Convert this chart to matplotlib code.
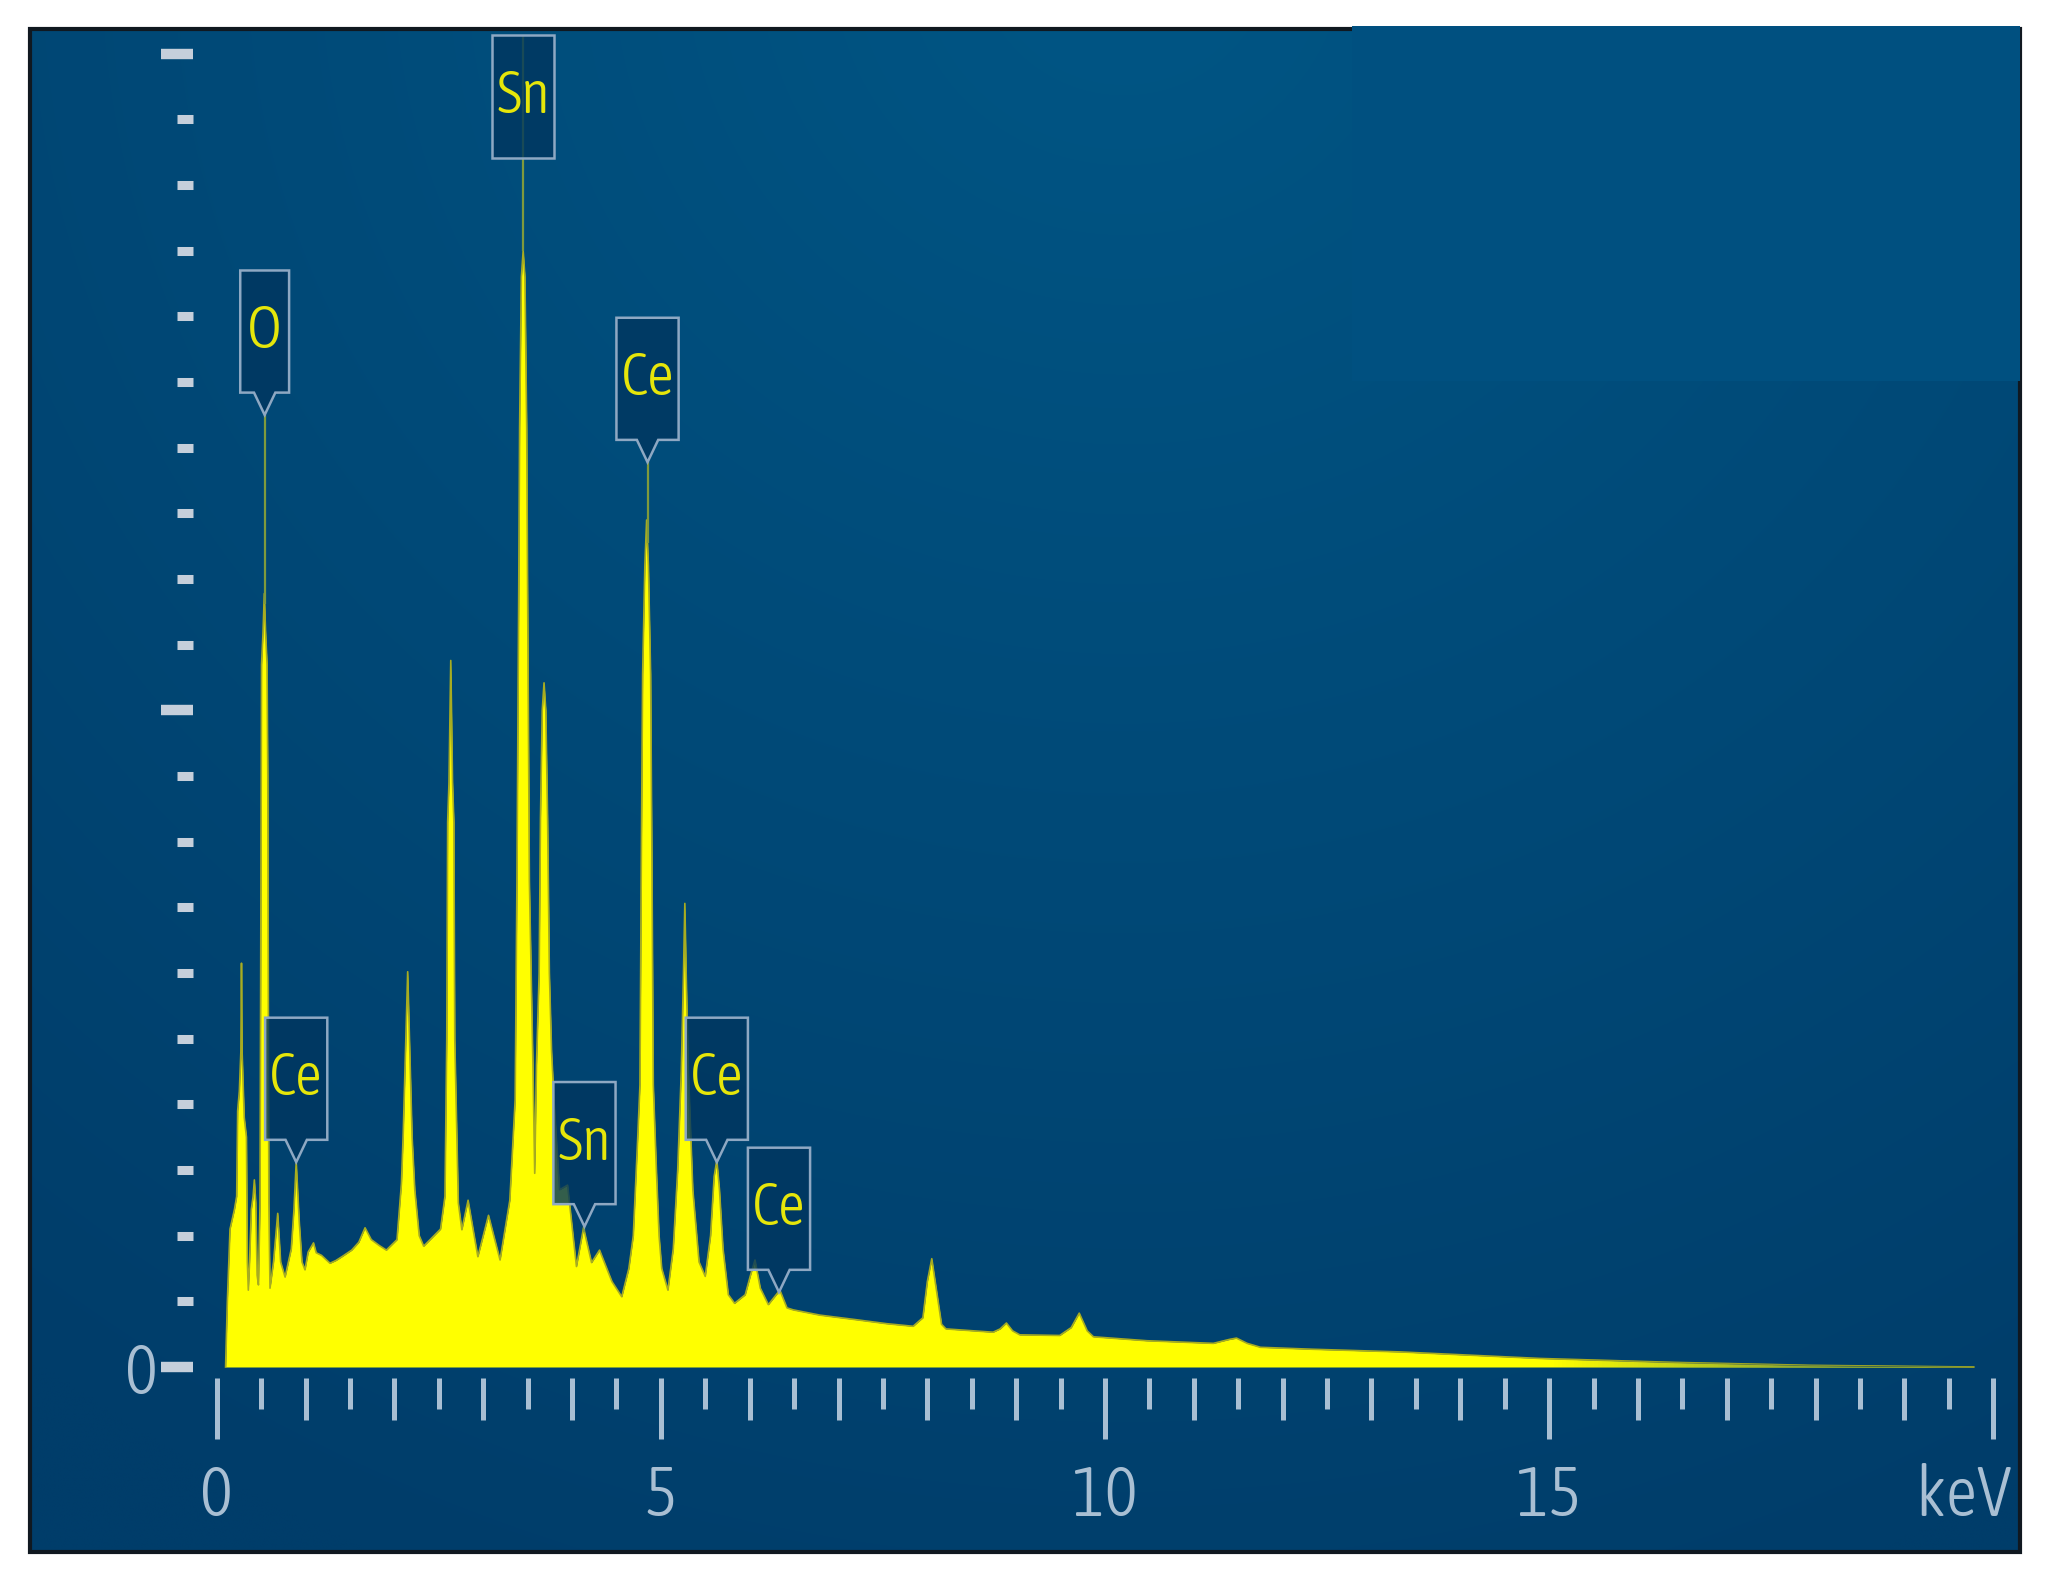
import numpy as np
import matplotlib
matplotlib.use("Agg")
import matplotlib.pyplot as plt
from matplotlib import font_manager
from matplotlib.font_manager import FontProperties
from matplotlib.patches import Polygon, Rectangle

# ---------------- data ----------------
energy_keV = [
    0.10, 0.12, 0.15, 0.20, 0.225, 0.236, 0.255, 0.272, 0.279, 0.286, 0.31, 0.335, 0.345, 0.356,
    0.37, 0.39, 0.41, 0.424, 0.44, 0.455, 0.47,
    0.488, 0.495, 0.50, 0.505, 0.522, 0.536, 0.55, 0.567, 0.575, 0.58, 0.587, 0.60,
    0.64, 0.687, 0.72, 0.77, 0.84, 0.87, 0.895, 0.93, 0.96, 0.994,
    1.03, 1.09, 1.12, 1.18, 1.275, 1.34, 1.41, 1.52, 1.60, 1.67, 1.74, 1.83, 1.91,
    2.03, 2.08, 2.10, 2.13, 2.15, 2.17, 2.20, 2.23, 2.28, 2.33, 2.44, 2.52, 2.57,
    2.59, 2.60, 2.615, 2.635, 2.655, 2.67, 2.68, 2.72, 2.76, 2.83, 2.94, 3.06, 3.19,
    3.30, 3.36, 3.38, 3.40, 3.41, 3.43, 3.45, 3.47, 3.49, 3.50, 3.52, 3.56, 3.58,
    3.60, 3.63, 3.645, 3.665, 3.685, 3.705, 3.725, 3.745, 3.77, 3.80, 3.86, 3.95,
    4.05, 4.13, 4.22, 4.31, 4.45, 4.56, 4.64, 4.69,
    4.74, 4.765, 4.78, 4.795, 4.82, 4.84, 4.86, 4.885, 4.90, 4.915, 4.95, 4.98, 5.01,
    5.08, 5.14, 5.19, 5.23, 5.255, 5.27, 5.285, 5.31, 5.36, 5.43, 5.50,
    5.56, 5.60, 5.63, 5.66, 5.70, 5.76, 5.83, 5.95, 6.01, 6.06, 6.12, 6.21, 6.34,
    6.42, 6.49, 6.79, 7.20, 7.54, 7.84, 7.95, 8.00, 8.05, 8.10, 8.16, 8.21,
    8.74, 8.82, 8.89, 8.96, 9.04, 9.49, 9.62, 9.71, 9.80, 9.87, 10.47, 11.22,
    11.40, 11.48, 11.60, 11.75, 12.34, 13.32, 14.90, 16.42, 17.95, 19.78,
]
counts = [
    0.00, 1.00, 2.10, 2.40, 2.60, 3.90, 4.20, 4.80, 6.15, 4.80, 3.80, 3.50, 1.60, 1.17,
    1.60, 2.40, 2.60, 2.85, 2.50, 1.40, 1.25,
    2.50, 6.00, 9.00, 10.70, 11.20, 11.78, 11.20, 10.70, 9.00, 6.00, 2.50, 1.20,
    1.60, 2.34, 1.60, 1.37, 1.80, 2.40, 3.12, 2.20, 1.60, 1.48,
    1.75, 1.89, 1.74, 1.70, 1.58, 1.62, 1.68, 1.78, 1.90, 2.12, 1.94, 1.85, 1.78,
    1.94, 2.80, 3.56, 5.00, 6.02, 5.00, 3.50, 2.70, 2.00, 1.84, 1.99, 2.10, 2.60,
    5.00, 8.30, 8.90, 10.76, 8.90, 8.30, 5.00, 2.50, 2.09, 2.54, 1.68, 2.31, 1.63,
    2.54, 4.07, 7.40, 11.80, 14.30, 16.60, 17.00, 16.60, 14.30, 11.80, 7.40, 4.60, 2.95,
    4.60, 6.00, 8.36, 10.00, 10.42, 10.00, 8.36, 6.00, 4.80, 4.00, 2.70, 2.77,
    1.53, 2.12, 1.59, 1.78, 1.30, 1.07, 1.50, 2.00,
    3.50, 4.30, 7.66, 10.55, 12.20, 12.90, 12.20, 10.55, 7.66, 4.30, 3.00, 2.00, 1.50,
    1.17, 1.80, 3.00, 4.50, 6.00, 7.06, 6.00, 4.50, 2.70, 1.60, 1.38,
    2.00, 2.90, 3.15, 2.70, 1.80, 1.10, 0.97, 1.10, 1.40, 1.63, 1.20, 0.95, 1.17,
    0.90, 0.87, 0.79, 0.72, 0.66, 0.62, 0.75, 1.30, 1.65, 1.20, 0.65, 0.58,
    0.53, 0.58, 0.67, 0.55, 0.49, 0.48, 0.60, 0.82, 0.55, 0.46, 0.40, 0.36,
    0.42, 0.44, 0.36, 0.30, 0.27, 0.23, 0.13, 0.07, 0.025, 0.00,
]

label_text = ["O", "Sn", "Ce", "Ce", "Sn", "Ce", "Ce"]
label_keV = [0.54, 3.45, 4.85, 0.895, 4.14, 5.63, 6.33]
label_tip = [14.50, 18.42, 13.78, 3.12, 2.14, 3.12, 1.14]
label_pointer = [True, False, True, True, True, True, True]

x_major = [0, 5, 10, 15, 20]
x_major_labels = ["0", "5", "10", "15", ""]
x_unit = "keV"
y_major = [0, 10, 20]
y_major_labels = ["0", "", ""]


# ---------------- fonts: a light, narrow face if one is installed ----------------
def _weight(f):
    w = f.weight
    if isinstance(w, (int, float)):
        return int(w)
    return font_manager.weight_dict.get(str(w), 400)


def pick_font():
    best = None
    for f in font_manager.fontManager.ttflist:
        nm = f.name
        narrow = ("Condensed" in nm) or ("Narrow" in nm) or (
            str(f.stretch) in ("condensed", "semi-condensed", "extra-condensed", "ultra-condensed"))
        if not narrow or f.style != "normal":
            continue
        score = abs(_weight(f) - 300) + (0 if "Narrow" in nm else 1)
        if best is None or score < best[0]:
            best = (score, f.fname, nm)
    return best


choice = pick_font()
if choice is not None:
    FONT_FILE = choice[1]
else:
    FONT_FILE = font_manager.findfont("DejaVu Sans")
AX_FS = 50
LB_FS = 43
fp_ax = FontProperties(fname=FONT_FILE, size=AX_FS)
fp_lb = FontProperties(fname=FONT_FILE, size=LB_FS)

# ---------------- figure / axes geometry ----------------
W, H = 2059, 1586
fig = plt.figure(figsize=(W / 100, H / 100), dpi=100, facecolor="white")
fl, fr, ft, fb = 30, 2020, 29, 1552
ax = fig.add_axes([fl / W, 1 - fb / H, (fr - fl) / W, (fb - ft) / H])
px_keV = 88.83
x0_px = 216.7
px_unit = 65.66
y0_px = 1367
XLIM = ((fl - x0_px) / px_keV, (fr - x0_px) / px_keV)
YLIM = (-(fb - y0_px) / px_unit, (y0_px - ft) / px_unit)

# background gradient
ny, nx = 300, 420
fy, fx = np.mgrid[0:1:ny * 1j, 0:1:nx * 1j]
r = np.sqrt(((fx - 0.55) * 1.25) ** 2 + (fy + 0.05) ** 2)
t = np.clip(r / 1.15, 0, 1)[..., None]
light = np.array([0, 86, 133]) / 255
dark = np.array([0, 61, 106]) / 255
bg = light * (1 - t) + dark * t
ax.imshow(bg, extent=(XLIM[0], XLIM[1], YLIM[0], YLIM[1]), aspect="auto",
          origin="upper", zorder=0, interpolation="bilinear")

# spectrum
E = np.array(energy_keV)
C = np.array(counts)
poly = ax.fill_between(E, C, 0, color="#ffff00", lw=0, zorder=2)
ax.plot(E, C, color="#a8ac20", lw=1.2, zorder=2.1)
# fade of the tail
gx = np.linspace(XLIM[0], XLIM[1], 500)
fade = np.zeros((1, 500, 4))
fade[..., :3] = dark
fade[0, :, 3] = np.clip((gx - 15.0) / (19.8 - 15.0), 0, 1) * 0.75
im = ax.imshow(fade, extent=(XLIM[0], XLIM[1], 0, 1.0), aspect="auto", zorder=2.2)
im.set_clip_path(poly.get_paths()[0], transform=ax.transData)

# element labels
BOX_H = 1.86
PT_D = 0.34
PT_HW = 0.12
for txt, cx, tip, has_ptr in zip(label_text, label_keV, label_tip, label_pointer):
    w = 0.55 if len(txt) == 1 else 0.70
    peak = float(np.interp(cx, E, C))
    if has_ptr:
        b = tip + PT_D
        verts = [(cx - w / 2, b), (cx - PT_HW, b), (cx, tip), (cx + PT_HW, b),
                 (cx + w / 2, b), (cx + w / 2, b + BOX_H), (cx - w / 2, b + BOX_H)]
        if peak < tip:
            ax.plot([cx, cx], [peak, tip], color="#7f9a3c", lw=1.6, zorder=2.5,
                    solid_capstyle="butt")
    else:
        b = tip
        verts = [(cx - w / 2, b), (cx + w / 2, b), (cx + w / 2, b + BOX_H), (cx - w / 2, b + BOX_H)]
        ax.plot([cx, cx], [peak, b + BOX_H], color="#7f9a3c", lw=1.6, zorder=2.5,
                solid_capstyle="butt")
    ax.add_patch(Polygon(verts, closed=True, facecolor="#00365f", alpha=0.8,
                         edgecolor="none", zorder=3))
    ax.add_patch(Polygon(verts, closed=True, facecolor="none", edgecolor="#8ea8c3",
                         lw=1.8, zorder=3.1, joinstyle="miter"))
    ax.text(cx, b + BOX_H / 2, txt, color="#e6e60a", fontproperties=fp_lb, ha="center",
            va="center", zorder=3.2)

# axes limits
ax.set_xlim(*XLIM)
ax.set_ylim(*YLIM)
ax.set_facecolor("#00426f")

# ticks: y axis
for s in ax.spines.values():
    s.set_visible(False)
ax.spines["left"].set_position(("data", -0.267))
ax.spines["bottom"].set_position(("data", -0.17))
ax.set_yticks(y_major, labels=y_major_labels)
ax.set_yticks([v for v in range(1, 20) if v != 10], minor=True)
ax.tick_params(axis="y", which="major", direction="out", length=22.7, width=7.5,
               color="#c5cfdb", labelcolor="#a9bfd3", pad=3)
ax.tick_params(axis="y", which="minor", direction="out", length=11.5, width=6.5,
               color="#c5cfdb")
# ticks: x axis
ax.set_xticks(x_major, labels=x_major_labels)
ax.set_xticks(np.arange(0.5, 20, 1.0), minor=True)
ax.tick_params(axis="x", which="major", direction="out", length=44, width=3.6,
               color="#a9bfd3", labelcolor="#a9bfd3", pad=17)
ax.tick_params(axis="x", which="minor", direction="out", length=22, width=3.6,
               color="#a9bfd3")
ax.tick_params(top=False, right=False)
for lab in ax.get_xticklabels() + ax.get_yticklabels():
    lab.set_fontproperties(fp_ax)

ax2 = ax.twiny()
ax2.set_xlim(*XLIM)
for s in ax2.spines.values():
    s.set_visible(False)
ax2.spines["bottom"].set_position(("data", -0.17))
ax2.xaxis.set_ticks_position("bottom")
ax2.set_xticks([v for v in range(1, 20) if v % 5 != 0])
ax2.tick_params(axis="x", which="major", direction="out", length=30, width=3.6,
                color="#a9bfd3", labelbottom=False, labeltop=False)

ax.text(20.21, -1.98, x_unit, color="#a9bfd3", fontproperties=fp_ax, ha="right",
        va="center")

# frame
ax.add_patch(Rectangle((0, 0), 1, 1, transform=ax.transAxes, fill=False,
                       edgecolor="#101820", lw=3, zorder=10, clip_on=False))
# lighter patch at top right
fig.add_artist(Rectangle((1352 / W, 1 - 381 / H), (2020 - 1352) / W, (381 - 26) / H,
                         transform=fig.transFigure, facecolor="#005080",
                         edgecolor="none", zorder=5))

fig.savefig("out.png", dpi=100, facecolor="white")
